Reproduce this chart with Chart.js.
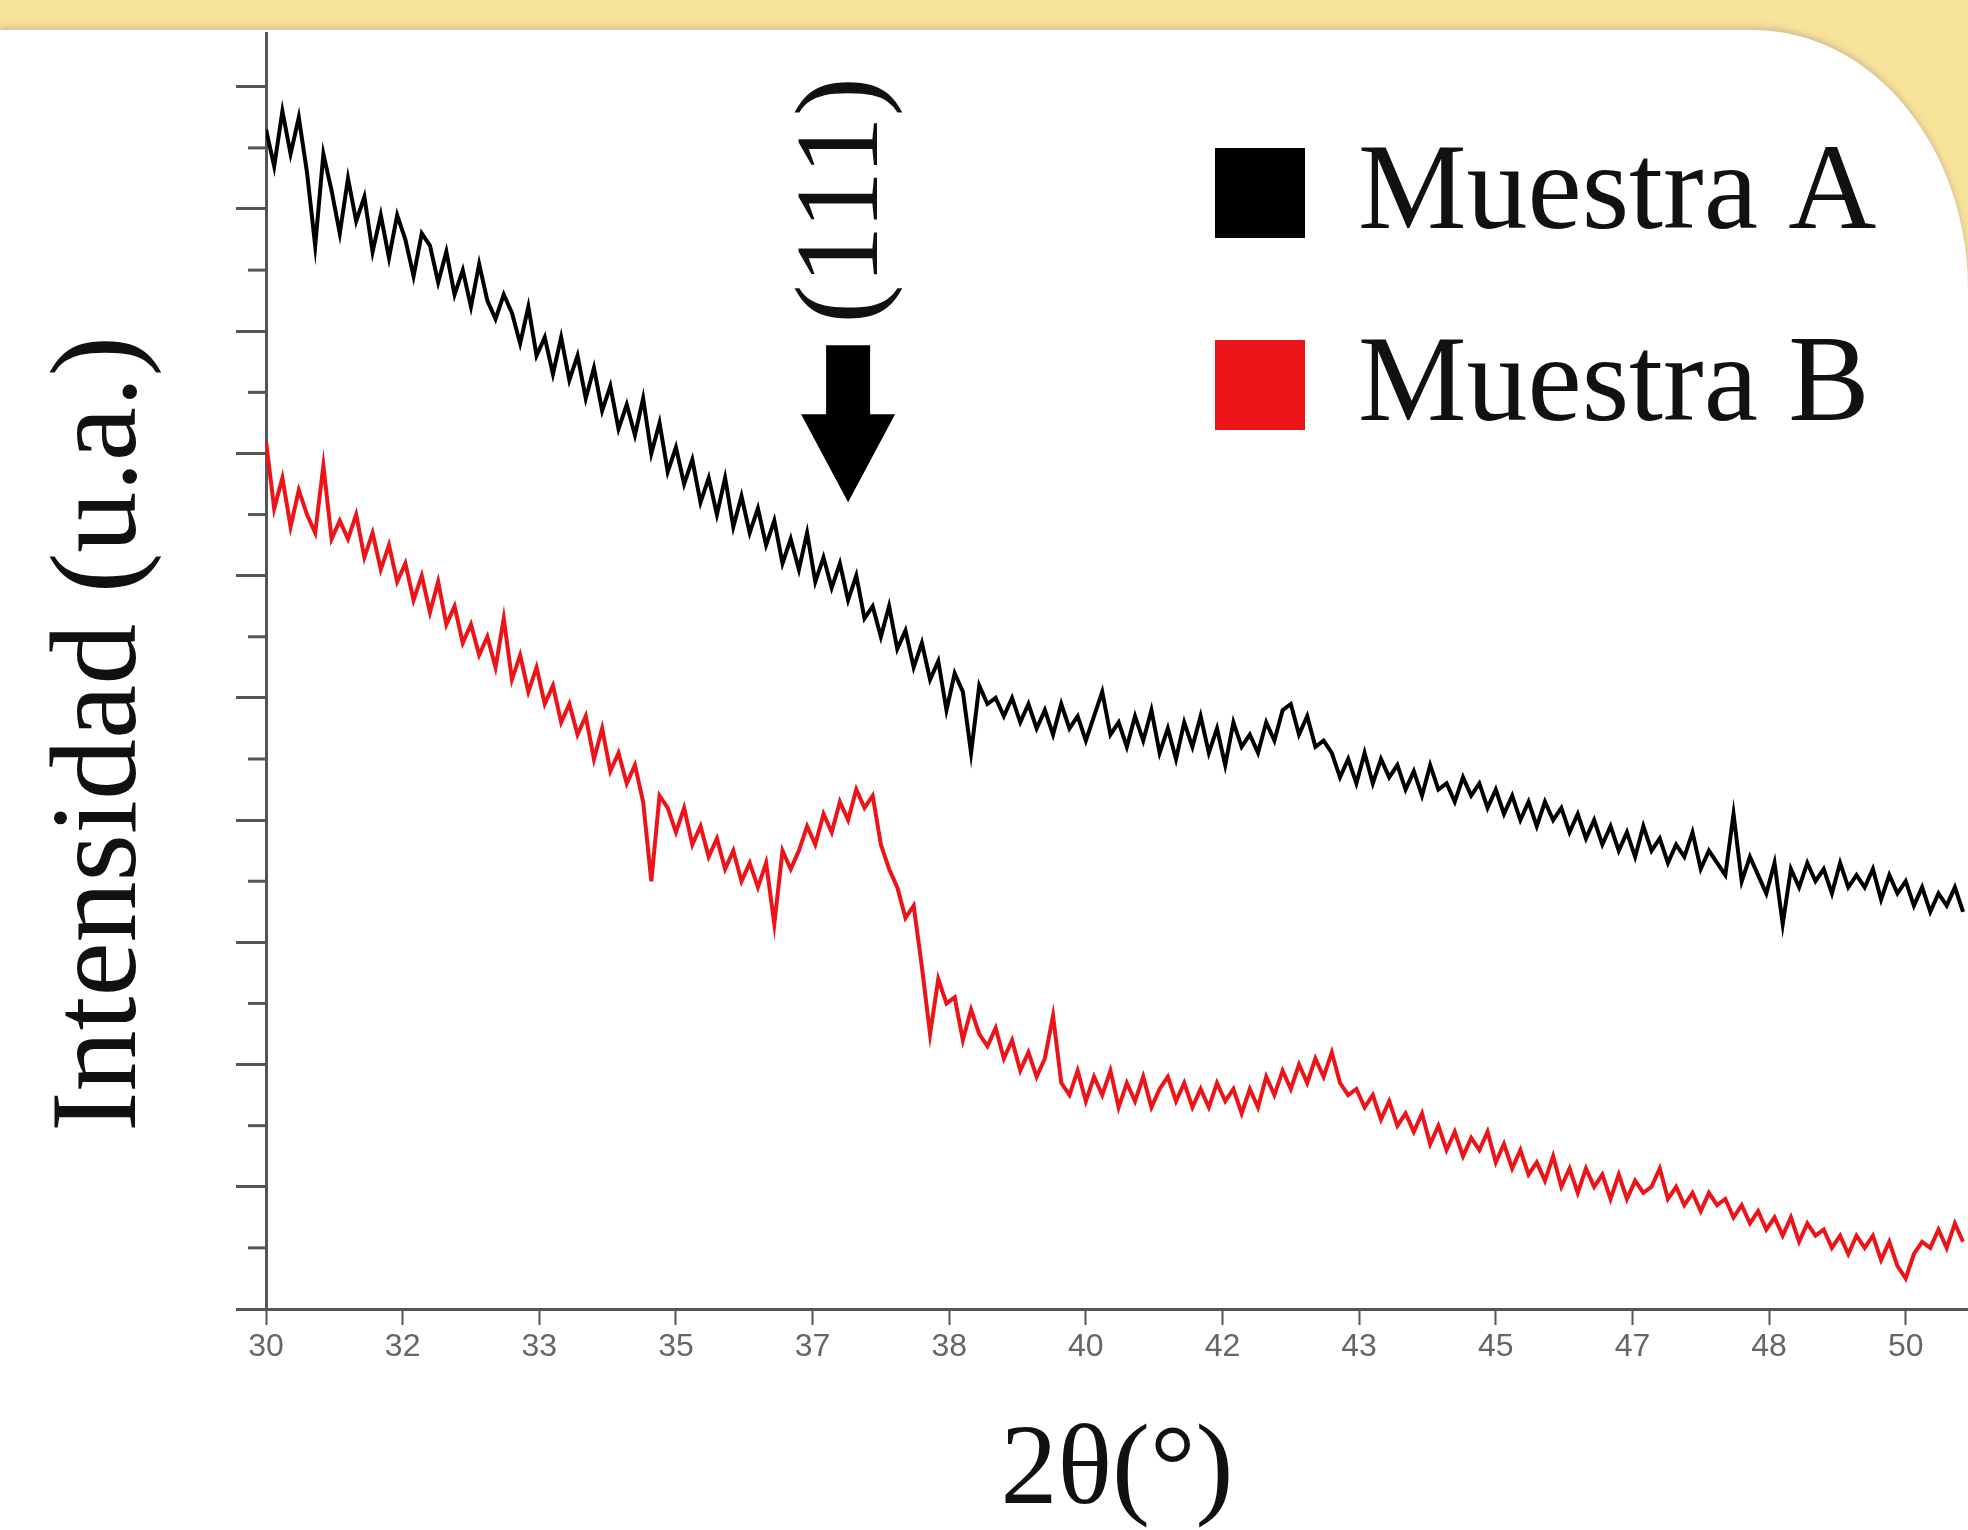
<!DOCTYPE html>
<html>
<head>
<meta charset="utf-8">
<script src="https://cdn.jsdelivr.net/npm/chart.js@4.4.1/dist/chart.umd.min.js"></script>
<style>
  html, body { margin: 0; padding: 0; }
  body { width: 1968px; height: 1530px; background: #f8e39b; position: relative; overflow: hidden; }
  #panel {
    position: absolute; left: 0; top: 30px; width: 1968px; height: 1500px;
    background: #fff;
    border-top-right-radius: 215px 260px;
    box-shadow: 0 -3px 6px rgba(170, 140, 140, 0.45);
  }
  #chart { position: absolute; left: 0; top: 0; }
</style>
</head>
<body>
<div id="panel"></div>
<canvas id="chart" width="1968" height="1530"></canvas>
<script>
// 2theta (deg) of each sample point
const angles = [
  30.0, 30.1, 30.2, 30.3, 30.4, 30.5, 30.6, 30.7, 30.8, 30.9,
  31.0, 31.1, 31.2, 31.3, 31.4, 31.5, 31.6, 31.7, 31.8, 31.9,
  32.0, 32.1, 32.2, 32.3, 32.4, 32.5, 32.6, 32.7, 32.8, 32.9,
  33.0, 33.1, 33.2, 33.3, 33.4, 33.5, 33.6, 33.7, 33.8, 33.9,
  34.0, 34.1, 34.2, 34.3, 34.4, 34.5, 34.6, 34.7, 34.8, 34.9,
  35.0, 35.1, 35.2, 35.3, 35.4, 35.5, 35.6, 35.7, 35.8, 35.9,
  36.0, 36.1, 36.2, 36.3, 36.4, 36.5, 36.6, 36.7, 36.8, 36.9,
  37.0, 37.1, 37.2, 37.3, 37.4, 37.5, 37.6, 37.7, 37.8, 37.9,
  38.0, 38.1, 38.2, 38.3, 38.4, 38.5, 38.6, 38.7, 38.8, 38.9,
  39.0, 39.1, 39.2, 39.3, 39.4, 39.5, 39.6, 39.7, 39.8, 39.9,
  40.0, 40.1, 40.2, 40.3, 40.4, 40.5, 40.6, 40.7, 40.8, 40.9,
  41.0, 41.1, 41.2, 41.3, 41.4, 41.5, 41.6, 41.7, 41.8, 41.9,
  42.0, 42.1, 42.2, 42.3, 42.4, 42.5, 42.6, 42.7, 42.8, 42.9,
  43.0, 43.1, 43.2, 43.3, 43.4, 43.5, 43.6, 43.7, 43.8, 43.9,
  44.0, 44.1, 44.2, 44.3, 44.4, 44.5, 44.6, 44.7, 44.8, 44.9,
  45.0, 45.1, 45.2, 45.3, 45.4, 45.5, 45.6, 45.7, 45.8, 45.9,
  46.0, 46.1, 46.2, 46.3, 46.4, 46.5, 46.6, 46.7, 46.8, 46.9,
  47.0, 47.1, 47.2, 47.3, 47.4, 47.5, 47.6, 47.7, 47.8, 47.9,
  48.0, 48.1, 48.2, 48.3, 48.4, 48.5, 48.6, 48.7, 48.8, 48.9,
  49.0, 49.1, 49.2, 49.3, 49.4, 49.5, 49.6, 49.7, 49.8, 49.9,
  50.0, 50.1, 50.2, 50.3, 50.4, 50.5, 50.6, 50.7
]

// intensities (arbitrary units, 1 = one y tick)
const muestraA = [
  19.3, 18.7, 19.6, 18.9, 19.5, 18.6, 17.4, 18.9, 18.3, 17.6,
  18.5, 17.8, 18.2, 17.3, 17.9, 17.2, 17.9, 17.5, 16.9, 17.6,
  17.4, 16.8, 17.3, 16.6, 17.0, 16.4, 17.1, 16.5, 16.2, 16.6,
  16.3, 15.8, 16.4, 15.6, 15.9, 15.3, 15.9, 15.2, 15.6, 14.9,
  15.4, 14.7, 15.1, 14.4, 14.8, 14.3, 14.9, 14.0, 14.5, 13.7,
  14.1, 13.5, 13.9, 13.2, 13.6, 13.0, 13.6, 12.8, 13.3, 12.7,
  13.1, 12.5, 12.9, 12.2, 12.6, 12.1, 12.7, 11.9, 12.3, 11.8,
  12.2, 11.6, 12.0, 11.3, 11.5, 11.0, 11.5, 10.8, 11.1, 10.5,
  10.9, 10.3, 10.6, 9.8, 10.4, 10.1, 9.1, 10.2, 9.9, 10.0,
  9.7, 10.0, 9.6, 9.9, 9.5, 9.8, 9.4, 9.9, 9.5, 9.7,
  9.3, 9.7, 10.1, 9.4, 9.6, 9.2, 9.7, 9.3, 9.8, 9.1,
  9.5, 9.0, 9.6, 9.2, 9.7, 9.1, 9.5, 8.9, 9.6, 9.2,
  9.4, 9.1, 9.6, 9.3, 9.8, 9.9, 9.4, 9.7, 9.2, 9.3,
  9.1, 8.7, 9.0, 8.6, 9.1, 8.6, 9.0, 8.7, 8.9, 8.5,
  8.8, 8.4, 8.9, 8.5, 8.6, 8.3, 8.7, 8.4, 8.6, 8.2,
  8.5, 8.1, 8.4, 8.0, 8.3, 7.9, 8.3, 8.0, 8.2, 7.8,
  8.1, 7.7, 8.0, 7.6, 7.9, 7.5, 7.8, 7.4, 7.9, 7.5,
  7.7, 7.3, 7.6, 7.4, 7.8, 7.2, 7.5, 7.3, 7.1, 8.1,
  7.0, 7.4, 7.1, 6.8, 7.3, 6.3, 7.2, 6.9, 7.3, 7.0,
  7.2, 6.8, 7.3, 6.9, 7.1, 6.9, 7.2, 6.7, 7.1, 6.8,
  7.0, 6.6, 6.9, 6.5, 6.8, 6.6, 6.9, 6.5
]

const muestraB = [
  14.2, 13.1, 13.6, 12.8, 13.4, 13.0, 12.7, 13.8, 12.6, 12.9,
  12.6, 13.0, 12.3, 12.7, 12.1, 12.5, 11.9, 12.2, 11.6, 12.0,
  11.4, 11.9, 11.2, 11.5, 10.9, 11.2, 10.7, 11.0, 10.5, 11.3,
  10.3, 10.7, 10.1, 10.5, 9.9, 10.2, 9.6, 9.9, 9.4, 9.7,
  9.0, 9.5, 8.8, 9.1, 8.6, 8.9, 8.3, 7.0, 8.4, 8.2,
  7.8, 8.2, 7.6, 7.9, 7.4, 7.7, 7.2, 7.5, 7.0, 7.3,
  6.9, 7.3, 6.3, 7.5, 7.2, 7.5, 7.9, 7.6, 8.1, 7.8,
  8.3, 8.0, 8.5, 8.2, 8.4, 7.6, 7.2, 6.9, 6.4, 6.6,
  5.6, 4.5, 5.4, 5.0, 5.1, 4.4, 4.9, 4.5, 4.3, 4.6,
  4.1, 4.4, 3.9, 4.2, 3.8, 4.1, 4.8, 3.7, 3.5, 3.9,
  3.4, 3.8, 3.5, 3.9, 3.3, 3.7, 3.4, 3.8, 3.3, 3.6,
  3.8, 3.4, 3.7, 3.3, 3.6, 3.3, 3.7, 3.4, 3.6, 3.2,
  3.6, 3.3, 3.8, 3.5, 3.9, 3.6, 4.0, 3.7, 4.1, 3.8,
  4.2, 3.7, 3.5, 3.6, 3.3, 3.5, 3.1, 3.4, 3.0, 3.2,
  2.9, 3.2, 2.7, 3.0, 2.6, 2.9, 2.5, 2.8, 2.6, 2.9,
  2.4, 2.7, 2.3, 2.6, 2.2, 2.4, 2.1, 2.5, 2.0, 2.3,
  1.9, 2.3, 2.0, 2.2, 1.8, 2.2, 1.8, 2.1, 1.9, 2.0,
  2.3, 1.8, 2.0, 1.7, 1.9, 1.6, 1.9, 1.7, 1.8, 1.5,
  1.7, 1.4, 1.6, 1.3, 1.5, 1.2, 1.5, 1.1, 1.4, 1.2,
  1.3, 1.0, 1.2, 0.9, 1.2, 1.0, 1.2, 0.8, 1.1, 0.7,
  0.5, 0.9, 1.1, 1.0, 1.3, 1.0, 1.4, 1.1
]

const seriesNames = ['Muestra A', 'Muestra B']
const seriesColors = ['#000000', '#ec1418']

// the x ticks sit every 5/3 degree, labels are rounded like in the original
const xTickValues = [30, 31.667, 33.333, 35, 36.667, 38.333, 40, 41.667, 43.333, 45, 46.667, 48.333, 50]
const xTickLabels = ['30', '32', '33', '35', '37', '38', '40', '42', '43', '45', '47', '48', '50']

const peakMark = { angle: 37.1, level: 13.2, label: '(111)' }

const serif = "'Liberation Serif', 'Times New Roman', serif"

const extras = {
    id: 'extras',
    afterDraw(chart) {
        const ctx = chart.ctx
        const xs = chart.scales.x
        const ys = chart.scales.y
        const area = chart.chartArea
        ctx.save()

        // short (minor) ticks on the y axis
        ctx.strokeStyle = '#555'
        ctx.lineWidth = 3
        ys.ticks.forEach(t => {
            if (t.value % 2 === 1) {
                const py = ys.getPixelForValue(t.value)
                ctx.beginPath()
                ctx.moveTo(area.left - 18, py)
                ctx.lineTo(area.left, py)
                ctx.stroke()
            }
        })

        // y title
        ctx.fillStyle = '#111'
        ctx.font = '122px ' + serif
        ctx.textAlign = 'center'
        ctx.textBaseline = 'middle'
        ctx.save()
        ctx.translate(103, 734)
        ctx.rotate(-Math.PI / 2)
        ctx.fillText('Intensidad (u.a.)', 0, 0)
        ctx.restore()

        // arrow and (111) label
        const tipX = xs.getPixelForValue(peakMark.angle)
        const tipY = ys.getPixelForValue(peakMark.level)
        ctx.fillStyle = '#000'
        ctx.beginPath()
        ctx.moveTo(tipX, tipY)
        ctx.lineTo(tipX - 47, tipY - 88)
        ctx.lineTo(tipX - 22, tipY - 88)
        ctx.lineTo(tipX - 22, tipY - 157)
        ctx.lineTo(tipX + 22, tipY - 157)
        ctx.lineTo(tipX + 22, tipY - 88)
        ctx.lineTo(tipX + 47, tipY - 88)
        ctx.closePath()
        ctx.fill()

        ctx.save()
        ctx.translate(tipX - 2, tipY - 302)
        ctx.rotate(-Math.PI / 2)
        ctx.font = '118px ' + serif
        ctx.fillStyle = '#111'
        ctx.fillText(peakMark.label, 0, 0)
        ctx.restore()

        // legend
        ctx.textAlign = 'left'
        chart.data.datasets.forEach((ds, i) => {
            const top = 148 + i * 192
            ctx.fillStyle = ds.borderColor
            ctx.fillRect(1215, top, 90, 90)
            ctx.fillStyle = '#111'
            ctx.font = '122px ' + serif
            ctx.fillText(ds.label, 1358, top + 48)
        })
        ctx.restore()
    }
}

new Chart(document.getElementById('chart'), {
    type: 'line',
    data: {
        datasets: [
            {
                label: seriesNames[0],
                data: angles.map((a, i) => ({ x: a, y: muestraA[i] })),
                borderColor: seriesColors[0],
                borderWidth: 4,
                pointRadius: 0,
                tension: 0
            },
            {
                label: seriesNames[1],
                data: angles.map((a, i) => ({ x: a, y: muestraB[i] })),
                borderColor: seriesColors[1],
                borderWidth: 4,
                pointRadius: 0,
                tension: 0
            }
        ]
    },
    options: {
        responsive: false,
        animation: false,
        devicePixelRatio: 1,
        layout: { padding: { top: 33, right: 0, left: 0, bottom: 0 } },
        plugins: {
            legend: { display: false },
            tooltip: { enabled: false }
        },
        scales: {
            x: {
                type: 'linear',
                min: 30,
                max: 50.76,
                afterBuildTicks: scale => {
                    scale.ticks = xTickValues.map(v => ({ value: v }))
                },
                afterFit: scale => { scale.height = 221 },
                ticks: {
                    autoSkip: false,
                    maxRotation: 0,
                    padding: 3,
                    color: '#666',
                    font: { family: "'Liberation Sans Narrow', 'Liberation Sans', sans-serif", size: 32 },
                    callback: (value, index) => xTickLabels[index]
                },
                grid: {
                    drawOnChartArea: false,
                    tickLength: 16,
                    tickWidth: 2,
                    tickColor: '#555'
                },
                border: { color: '#555', width: 3 },
                title: {
                    display: true,
                    text: '2θ(°)',
                    color: '#111',
                    font: { family: serif, size: 114, lineHeight: 1 },
                    padding: { top: 0, bottom: 0 }
                }
            },
            y: {
                min: 0,
                max: 20.88,
                afterFit: scale => { scale.width = 266 },
                ticks: { display: false, stepSize: 1 },
                grid: {
                    drawOnChartArea: false,
                    tickLength: 30,
                    tickWidth: 3,
                    tickColor: ctx => (ctx.tick && ctx.tick.value % 2 === 0) ? '#555' : 'rgba(0,0,0,0)'
                },
                border: { color: '#555', width: 3 }
            }
        }
    },
    plugins: [extras]
})
</script>
</body>
</html>
